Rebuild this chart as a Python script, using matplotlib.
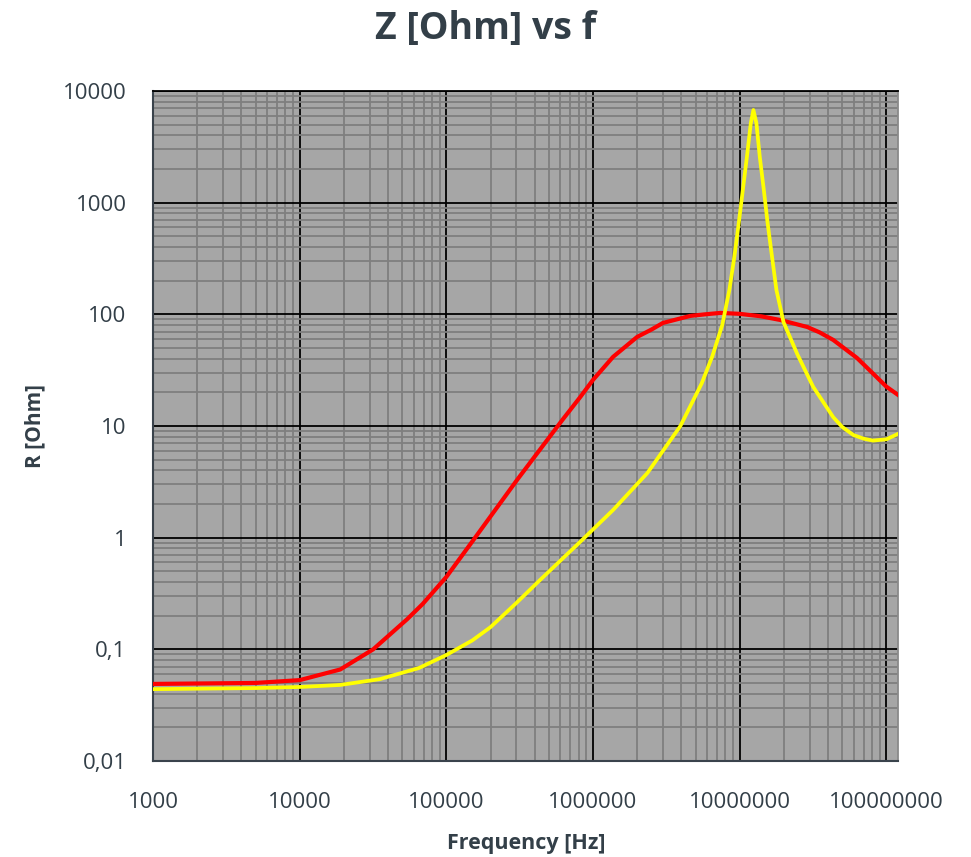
import matplotlib
matplotlib.use("Agg")
import matplotlib.pyplot as plt
from matplotlib.ticker import FixedLocator, LogLocator, NullFormatter

# ---- data ----
red_f = [1e3, 5e3, 1e4, 1.89e4, 3.17e4, 5.4e4, 6.9e4, 1e5, 1.57e5, 3.04e5,
         6.17e5, 8.19e5, 1.0e6, 1.37e6, 2.0e6, 2.5e6, 3.0e6, 4.6e6, 5.8e6, 7.4e6,
         1.0e7, 1.4e7, 1.89e7, 2.89e7, 3.5e7, 4.34e7, 6.3e7, 8.0e7, 1.0e8, 1.2e8]
red_z = [0.049, 0.050, 0.053, 0.066, 0.10, 0.186, 0.255, 0.445, 1.0, 3.3,
         11.3, 18.2, 25.9, 41.6, 62.8, 73, 83.8, 96.8, 100, 103,
         101, 96, 89, 77, 69, 59, 40.7, 30, 22.5, 19]

yel_f = [1e3, 5e3, 1e4, 1.89e4, 3.5e4, 6.5e4, 1e5, 1.5e5, 2e5, 3e5, 4.37e5, 8.19e5,
         1.37e6, 2.35e6, 3.94e6, 5.5e6, 6.5e6, 7.6e6, 8.5e6, 9.2e6, 9.85e6, 10.5e6,
         11.2e6, 11.9e6, 12.4e6, 13.0e6, 13.7e6, 14.6e6, 15.5e6, 16.6e6, 17.8e6,
         19.9e6, 24.7e6, 31.7e6, 43.4e6, 5.0e7, 59.6e6, 7.0e7, 81e6, 100e6, 120e6]
yel_z = [0.044, 0.045, 0.046, 0.048, 0.054, 0.068, 0.089, 0.12, 0.158, 0.26, 0.42, 0.92,
         1.77, 3.8, 10.0, 24, 42, 80, 165, 329, 655, 1300,
         2580, 5140, 6760, 5140, 2580, 1300, 655, 329, 165,
         85, 44, 22.4, 12.0, 9.8, 8.3, 7.7, 7.4, 7.6, 8.5]

x_ticks = [1e3, 1e4, 1e5, 1e6, 1e7, 1e8]
x_labels = ["1000", "10000", "100000", "1000000", "10000000", "100000000"]
y_ticks = [0.01, 0.1, 1, 10, 100, 1000, 10000]
y_labels = ["0,01", "0,1", "1", "10", "100", "1000", "10000"]

TXT = "#333f48"
plt.rcParams['font.family'] = ['Open Sans', 'DejaVu Sans']

fig = plt.figure(figsize=(9.71, 8.57), dpi=100)
ax = fig.add_axes([153/971, 1-761/857, (898-153)/971, (761-91)/857])
ax.set_facecolor("#a6a6a6")
ax.set_xscale("log")
ax.set_yscale("log")
ax.set_xlim(1e3, 1.2e8)
ax.set_ylim(0.01, 10000)

ax.xaxis.set_major_locator(FixedLocator(x_ticks))
ax.yaxis.set_major_locator(FixedLocator(y_ticks))
ax.xaxis.set_minor_locator(LogLocator(base=10, subs=range(2, 10), numticks=20))
ax.yaxis.set_minor_locator(LogLocator(base=10, subs=range(2, 10), numticks=20))
ax.xaxis.set_minor_formatter(NullFormatter())
ax.yaxis.set_minor_formatter(NullFormatter())
ax.set_xticklabels(x_labels)
ax.set_yticklabels(y_labels)

ax.grid(which="minor", color="#7f7f7f", linewidth=1.3, zorder=0)
ax.grid(which="major", color="#000000", linewidth=1.3, zorder=0)
ax.set_axisbelow(True)
ax.tick_params(which="both", length=0, labelsize=16, labelcolor=TXT)
ax.tick_params(axis="x", pad=22)
ax.tick_params(axis="y", pad=19)

ax.plot(red_f, red_z, color="#ff0000", linewidth=3.0, zorder=3,
        solid_joinstyle="round")
ax.plot(yel_f, yel_z, color="#ffff00", linewidth=2.7, zorder=4,
        solid_joinstyle="round")

for s in ["left", "bottom"]:
    ax.spines[s].set_color("#3a434c")
    ax.spines[s].set_linewidth(1.5)
ax.spines["top"].set_color("#000000")
ax.spines["top"].set_linewidth(1.3)
ax.spines["right"].set_color("#8a8a8a")
ax.spines["right"].set_linewidth(1.3)

fig.text(0.5, 1-29/857, "Z [Ohm] vs f", ha="center", va="center",
         fontsize=27, fontweight="bold", color=TXT)
fig.text(526/971, 1-843/857, "Frequency [Hz]", ha="center", va="center",
         fontsize=15.5, fontweight="bold", color=TXT)
fig.text(35/971, 1-426/857, "R [Ohm]", ha="center", va="center", rotation=90,
         fontsize=15, fontweight="bold", color=TXT)

fig.savefig("out.png", dpi=100, facecolor="white")
